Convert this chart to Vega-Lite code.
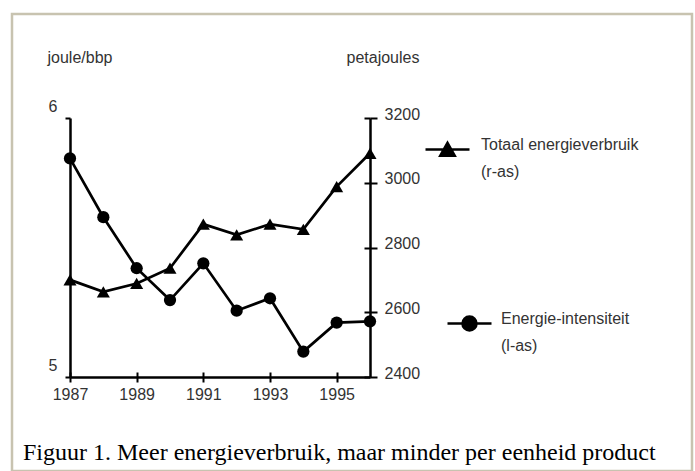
{
  "$schema": "https://vega.github.io/schema/vega-lite/v6.json",
  "width": 680,
  "height": 457,
  "autosize": {"type": "none"},
  "padding": {"left": 12, "top": 14, "right": 3, "bottom": 0},
  "background": "white",
  "config": {
    "view": {"stroke": "#c8c3b0", "strokeWidth": 2.5},
    "style": {"guide-label": {"lineHeight": 27}},
    "axis": {
      "grid": false,
      "domainColor": "black",
      "domainWidth": 2.5,
      "tickColor": "black",
      "tickWidth": 2,
      "labelFont": "Liberation Sans",
      "labelFontSize": 16,
      "labelColor": "#333",
      "labelFlush": false,
      "labelOverlap": false,
      "labelBound": false,
      "titleFont": "Liberation Sans",
      "titleFontSize": 16,
      "titleColor": "#333",
      "titleFontWeight": "normal"
    }
  },
  "title": {
    "text": "Figuur 1. Meer energieverbruik, maar minder per eenheid product",
    "orient": "bottom",
    "anchor": "start",
    "frame": "group",
    "font": "Liberation Serif",
    "fontSize": 24,
    "fontWeight": "normal",
    "color": "black",
    "baseline": "alphabetic",
    "offset": -11,
    "dx": 11
  },
  "data": {
    "values": [
      {"year": 1987, "total": 2700, "intensity": 5.844},
      {"year": 1988, "total": 2663, "intensity": 5.617},
      {"year": 1989, "total": 2689, "intensity": 5.42},
      {"year": 1990, "total": 2736, "intensity": 5.297},
      {"year": 1991, "total": 2872, "intensity": 5.439},
      {"year": 1992, "total": 2839, "intensity": 5.256},
      {"year": 1993, "total": 2872, "intensity": 5.304},
      {"year": 1994, "total": 2856, "intensity": 5.098},
      {"year": 1995, "total": 2988, "intensity": 5.21},
      {"year": 1996, "total": 3091, "intensity": 5.215}
    ]
  },
  "layer": [
    {
      "mark": {"type": "line", "color": "black", "strokeWidth": 2.7},
      "encoding": {
        "x": {
          "field": "year", "type": "quantitative",
          "scale": {"domain": [1987, 1996], "range": [58, 358], "nice": false, "zero": false},
          "axis": {
            "orient": "bottom", "offset": -94, "title": null,
            "values": [1987, 1989, 1991, 1993, 1995], "format": "d",
            "tickSize": 5, "labelPadding": 4
          }
        },
        "y": {
          "field": "total", "type": "quantitative",
          "scale": {"domain": [2400, 3200], "range": [363, 104], "nice": false, "zero": false},
          "axis": {
            "orient": "right", "offset": -322,
            "values": [2400, 2600, 2800, 3000, 3200], "format": "d",
            "tickSize": 7, "labelPadding": 7, "labelOffset": -4,
            "title": "petajoules", "titleAngle": 0, "titleAlign": "left", "titleBaseline": "middle",
            "titleX": -24, "titleY": 43
          }
        }
      }
    },
    {
      "mark": {"type": "point", "filled": true, "shape": "triangle-up", "opacity": 1, "size": 170},
      "encoding": {
        "x": {
          "field": "year", "type": "quantitative",
          "scale": {"domain": [1987, 1996], "range": [58, 358], "nice": false, "zero": false},
          "axis": {
            "orient": "bottom", "offset": -94, "title": null,
            "values": [1987, 1989, 1991, 1993, 1995],
            "tickSize": -5, "labels": false, "domain": false
          }
        },
        "y": {
          "field": "total", "type": "quantitative",
          "scale": {"domain": [2400, 3200], "range": [363, 104], "nice": false, "zero": false},
          "axis": {
            "orient": "right", "offset": -322, "title": null,
            "values": [2400, 2600, 2800, 3000, 3200],
            "tickSize": -6, "labels": false, "domain": false
          }
        },
        "fill": {
          "datum": "Totaal energieverbruik",
          "scale": {"domain": ["Totaal energieverbruik"], "range": ["black"]},
          "legend": {
            "orient": "none", "legendX": 412, "legendY": 112, "title": null, "padding": 0,
            "symbolType": "M-1,0H1M0,-0.3L0.33,0.28L-0.33,0.28Z",
            "symbolSize": 1936, "symbolStrokeWidth": 2.5,
            "symbolFillColor": "black", "symbolStrokeColor": "black", "symbolOpacity": 1,
            "labelOffset": 10, "labelFont": "Liberation Sans", "labelFontSize": 16,
            "labelColor": "#333", "labelBaseline": "alphabetic", "labelLimit": 400,
            "labelExpr": "['Totaal energieverbruik', '\u00a0(r-as)']"
          }
        }
      }
    },
    {
      "mark": {"type": "line", "color": "black", "strokeWidth": 2.7},
      "encoding": {
        "x": {
          "field": "year", "type": "quantitative",
          "scale": {"domain": [1987, 1996], "range": [58, 358], "nice": false, "zero": false},
          "axis": null
        },
        "y": {
          "field": "intensity", "type": "quantitative",
          "scale": {"domain": [5, 6], "range": [363, 104], "nice": false, "zero": false},
          "axis": {
            "orient": "left", "offset": -58,
            "values": [5, 6], "format": "d",
            "tickSize": 5, "labelPadding": 8, "labelOffset": -12,
            "title": "joule/bbp", "titleAngle": 0, "titleAlign": "left", "titleBaseline": "middle",
            "titleX": -23, "titleY": 43
          }
        }
      }
    },
    {
      "mark": {"type": "point", "filled": true, "shape": "circle", "opacity": 1, "size": 150},
      "encoding": {
        "x": {
          "field": "year", "type": "quantitative",
          "scale": {"domain": [1987, 1996], "range": [58, 358], "nice": false, "zero": false},
          "axis": null
        },
        "y": {
          "field": "intensity", "type": "quantitative",
          "scale": {"domain": [5, 6], "range": [363, 104], "nice": false, "zero": false},
          "axis": null
        },
        "color": {
          "datum": "Energie-intensiteit",
          "scale": {"domain": ["Energie-intensiteit"], "range": ["black"]},
          "legend": {
            "orient": "none", "legendX": 434, "legendY": 286, "title": null, "padding": 0,
            "symbolType": "M-1,0H1M0.32,0A0.32,0.32,0,1,1,-0.32,0A0.32,0.32,0,1,1,0.32,0Z",
            "symbolSize": 1936, "symbolStrokeWidth": 2.5,
            "symbolFillColor": "black", "symbolStrokeColor": "black", "symbolOpacity": 1,
            "labelOffset": 8, "labelFont": "Liberation Sans", "labelFontSize": 16,
            "labelColor": "#333", "labelBaseline": "alphabetic", "labelLimit": 400,
            "labelExpr": "['Energie-intensiteit', '\u00a0(l-as)']"
          }
        }
      }
    }
  ],
  "resolve": {
    "scale": {"x": "independent", "y": "independent", "fill": "independent", "color": "independent"},
    "axis": {"x": "independent", "y": "independent"},
    "legend": {"fill": "independent", "color": "independent"}
  }
}
